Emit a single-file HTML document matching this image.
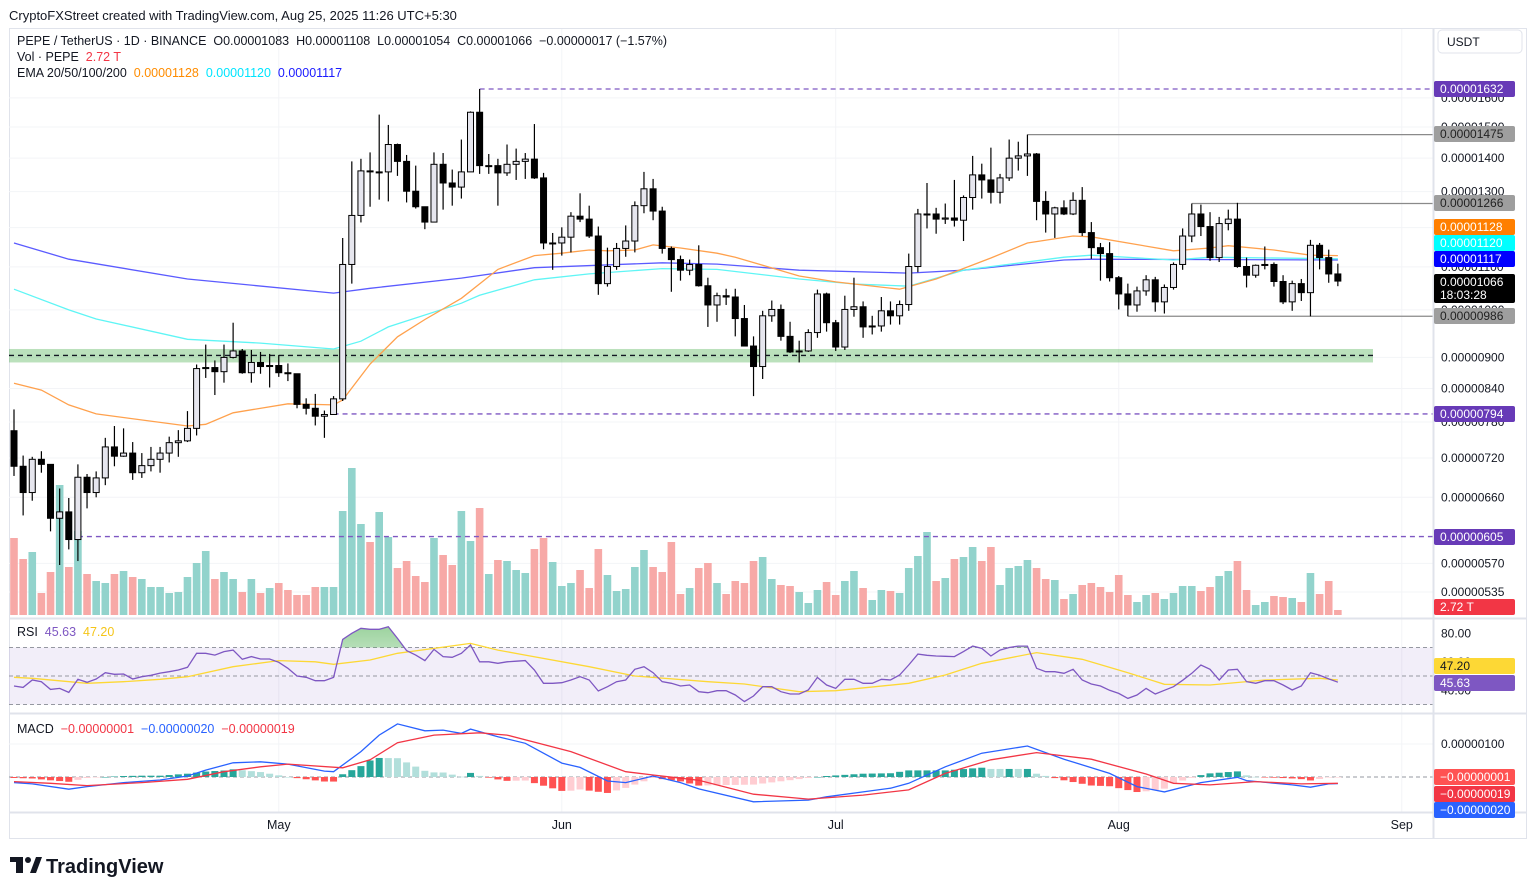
<!DOCTYPE html>
<html><head><meta charset="utf-8"><title>PEPE/USDT chart</title>
<style>
html,body{margin:0;padding:0;background:#fff;}
svg{display:block;font-family:"Liberation Sans",Arial,sans-serif;}
</style></head>
<body>
<svg id="chart" width="1536" height="894" viewBox="0 0 1536 894" xmlns="http://www.w3.org/2000/svg">
<defs>
<clipPath id="mainClip"><rect x="9" y="29" width="1424" height="589"/></clipPath>
<clipPath id="rsiClip"><rect x="9" y="620" width="1424" height="92"/></clipPath>
<clipPath id="obClip"><rect x="9" y="600" width="1424" height="47.5"/></clipPath>
<clipPath id="macdClip"><rect x="9" y="715" width="1424" height="97"/></clipPath>
<linearGradient id="obGrad" x1="0" y1="0" x2="0" y2="1"><stop offset="0" stop-color="#4caf50" stop-opacity="0.55"/><stop offset="1" stop-color="#4caf50" stop-opacity="0.05"/></linearGradient>
</defs>
<text x="9" y="20" font-size="13" fill="#131722">CryptoFXStreet created with TradingView.com, Aug 25, 2025 11:26 UTC+5:30</text>
<rect x="9.5" y="28.5" width="1517" height="810" fill="none" stroke="#e0e3eb"/>
<g id="grid"></g>
<g id="main" clip-path="url(#mainClip)"></g>
<g id="rsi"></g>
<g id="macd"></g>
<g id="axes"></g>
<g id="legend">
<text x="17" y="45" font-size="12.5" fill="#131722">PEPE / TetherUS · 1D · BINANCE&#160;&#160;O0.00001083&#160;&#160;H0.00001108&#160;&#160;L0.00001054&#160;&#160;C0.00001066&#160;&#160;−0.00000017 (−1.57%)</text>
<text x="17" y="61" font-size="12.5" fill="#131722">Vol · PEPE&#160;&#160;<tspan fill="#f23645">2.72 T</tspan></text>
<text x="17" y="77" font-size="12.5" fill="#131722">EMA 20/50/100/200&#160;&#160;<tspan fill="#ff8c00">0.00001128</tspan>&#160;&#160;<tspan fill="#00e5ff">0.00001120</tspan>&#160;&#160;<tspan fill="#1a1aff">0.00001117</tspan></text>
<text x="17" y="636" font-size="12.5" fill="#131722">RSI&#160;&#160;<tspan fill="#7e57c2">45.63</tspan>&#160;&#160;<tspan fill="#f5c518">47.20</tspan></text>
<text x="17" y="733" font-size="12.5" fill="#131722">MACD&#160;&#160;<tspan fill="#f23645">−0.00000001</tspan>&#160;&#160;<tspan fill="#2962ff">−0.00000020</tspan>&#160;&#160;<tspan fill="#f23645">−0.00000019</tspan></text>
</g>
<g>
<rect x="10" y="857" width="13" height="5" fill="#131722"/>
<rect x="16" y="857" width="7" height="16" fill="#131722"/>
<circle cx="28" cy="860" r="3" fill="#131722"/>
<polygon points="30,873 36,857 42,857 36,873" fill="#131722"/>
<text x="46" y="873" font-size="20" font-weight="bold" fill="#131722">TradingView</text>
</g>
</svg>
<script>
// ---- price data (units of 1e-8 USDT) ----
const firstOpen = 765;
const closes = [707,667,718,710,630,639,601,690,667,689,738,723,728,697,708,718,728,745,748,769,
878,880,872,900,913,870,890,882,884,870,868,811,804,790,793,821,1106,1233,1361,1358,
1358,1443,1390,1301,1257,1215,1381,1325,1313,1358,1550,1377,1377,1355,1381,1390,1397,1340,1160,1160,
1175,1231,1223,1178,1060,1101,1146,1165,1260,1308,1245,1146,1118,1092,1106,1055,1011,1032,1029,981,
923,882,987,1001,943,911,913,951,1036,972,921,1001,1007,963,965,998,987,1012,1101,1237,
1237,1223,1226,1220,1283,1349,1334,1298,1340,1400,1407,1413,1272,1237,1254,1237,1275,1187,1148,1133,
1074,1036,1011,1043,1069,1018,1051,1106,1178,1237,1203,1123,1211,1223,1101,1080,1104,1106,1065,1018,
1060,1039,1154,1123,1083,1066];
const highs = [802,724,722,731,708,673,659,710,695,699,753,773,769,746,728,738,738,755,766,799,
886,926,894,926,972,917,915,911,907,905,888,868,822,830,800,826,1173,1390,1398,1418,
1542,1507,1446,1410,1377,1257,1418,1416,1365,1459,1553,1632,1413,1398,1443,1430,1416,1510,1355,1186,
1201,1242,1295,1260,1203,1148,1160,1206,1272,1358,1337,1257,1151,1128,1118,1154,1074,1039,1048,1048,
1011,943,998,1021,1012,974,934,958,1046,1039,978,1032,1074,1019,987,1029,1019,1021,1133,1251,
1325,1254,1266,1334,1289,1407,1383,1433,1352,1459,1452,1475,1416,1301,1257,1275,1298,1313,1215,1160,
1162,1078,1060,1053,1080,1076,1058,1111,1198,1266,1263,1242,1229,1249,1268,1123,1106,1151,1111,1080,
1067,1071,1168,1160,1143,1108];
const lows = [692,634,655,697,612,568,588,573,644,660,678,707,722,686,689,699,697,713,722,746,
757,860,828,851,898,868,851,868,842,862,854,804,793,774,753,794,817,1060,1214,1257,
1277,1272,1346,1269,1252,1196,1215,1249,1260,1280,1358,1352,1352,1260,1346,1334,1337,1337,1144,1093,
1128,1136,1215,1173,1034,1053,1093,1125,1136,1239,1220,1133,1041,1067,1080,1053,963,974,1011,943,
923,826,858,974,934,909,890,911,940,953,913,915,985,940,947,953,968,968,998,1087,
1198,1184,1210,1203,1165,1249,1280,1266,1266,1331,1362,1346,1220,1187,1173,1234,1234,1178,1120,1067,
1065,1001,986,996,1032,996,992,1046,1093,1162,1178,1115,1112,1193,1098,1051,1074,1094,1053,1013,
998,1020,986,1094,1062,1054];
const volumes = [77,56,63,22,43,130,48,84,41,34,32,41,44,38,36,28,28,22,23,38,
52,64,36,43,36,23,36,22,27,32,25,20,20,28,28,28,104,147,91,73,
103,78,47,54,39,33,77,60,50,104,74,107,41,55,54,45,42,66,77,53,
29,32,45,27,66,40,24,26,48,65,48,43,73,21,27,47,52,32,21,34,
32,54,58,36,30,29,23,12,25,33,20,34,44,27,15,25,24,22,47,59,
83,34,37,56,58,68,54,68,30,47,49,55,47,36,35,16,21,30,32,28,
23,40,20,13,20,22,16,22,29,29,24,28,39,44,54,25,10,13,19,18,
17,13,42,21,34,5];
// ---- EMA samples (candle index, value) ----
const emaOrangeIdx = [0,3,6,9,19,21,24,30,35,36,39,42,45,49,53,57,60,63,65,68,70,73,77,79,82,86,90,97,101,107,111,116,118,127,131,133,138,142,145];
const emaOrangeVal = [850,837,810,794,773,776,796,812,810,819,887,942,979,1026,1094,1128,1134,1142,1140,1142,1155,1147,1134,1124,1104,1078,1064,1047,1071,1122,1160,1178,1176,1140,1147,1153,1142,1129,1128];
const emaCyanIdx = [0,6,9,19,27,35,38,41,49,51,57,63,71,77,86,92,98,104,115,118,127,131,145];
const emaCyanVal = [1047,1000,980,937,929,917,933,963,1015,1033,1069,1083,1096,1094,1071,1059,1054,1092,1124,1129,1117,1124,1120];
const emaBlueIdx = [0,6,19,35,39,49,57,71,77,86,98,104,115,118,145];
const emaBlueVal = [1160,1119,1071,1038,1049,1073,1098,1110,1107,1092,1085,1092,1117,1119,1117];
// ---- RSI ----
const rsiValues = [43,42,47.2,46,40.6,41.3,38.5,47.7,45.6,47.9,52.3,51.2,51.4,47.9,49.5,50.5,52,53,54.2,56.1,
65.9,65.9,64.7,67.1,68.2,61.7,63.6,61.9,61.9,59.6,55.4,50,49.1,46.7,46.7,49,75.7,80,83.5,82.8,
82.8,84.6,76.4,67.8,64.7,60.8,68.7,63.6,63.1,65.9,71.8,60,60,58.9,60,60.4,60.8,54.2,44.9,44.9,
45.3,47.2,49.5,47.2,39.5,42.5,46,47.2,54.7,56.5,52.3,46,44.9,43,43.7,39,38.3,39.7,39.7,36.7,
32,36,42.5,42.5,39,37.4,37.4,40.2,49,43.7,41.3,47.7,47.7,44.9,44.9,47.7,47.2,50.7,57.7,65.4,
64.5,64,63.8,63.6,67.1,71,69.4,64,68.2,70,71,71,55.4,53,53,51.9,54.7,47.2,44.4,43,
40,37.8,34.3,36.7,41.3,37.4,40,42.5,47,51.9,57.7,54.7,47.2,54.2,54.7,46,44.9,46.7,46.7,43.7,
40.2,43,52.3,50.5,48,45.63];
const rsiMaIdx = [0,2,8,12,16,19,24,29,33,35,39,42,46,50,53,56,63,68,76,80,86,90,98,102,106,112,117,122,126,131,137,143,145];
const rsiMaVal = [49.1,48.4,44.9,46,47.7,49.5,56.5,60.8,60,58.2,61.2,65.9,69.4,72.9,68.2,64.7,56.5,50,46,44.4,39,39.7,44.9,50.7,58.9,66.4,61.7,52.3,44.2,43.7,47.2,48.4,47.2];
const rsiTicks = ["80.00","60.00","40.00"];
const rsiTickVals = [80,60,40];
// ---- MACD (units of 1e-8) ----
const macdIdx = [0,2,6,8,12,16,19,21,24,27,30,34,35,38,40,42,45,47,49,50,53,56,60,62,65,67,70,73,75,81,87,89,93,96,98,102,106,111,115,120,123,126,130,134,135,140,142,144,145];
const macdVal = [-17,-21,-37,-29,-17,-9,3,21,43,46,39,18,16,77,127,161,140,142,132,145,122,102,42,29,-12,-17,3,-17,-36,-75,-70,-60,-45,-34,-19,31,72,94,54,11,-29,-45,-17,-1,-11,-24,-31,-21,-20];
const signalIdx = [0,4,8,14,19,23,27,30,36,39,42,46,51,54,61,67,70,75,81,87,93,98,102,107,112,118,124,127,131,136,141,145];
const signalVal = [-14,-19,-26,-17,-7,16,31,39,28,52,104,127,134,127,77,16,6,-10,-52,-67,-55,-39,11,52,74,54,9,-19,-24,-14,-21,-19];
// ---- axis labels ----
const priceTicks = [1600,1500,1400,1300,1200,1100,1000,900,840,780,720,660,570,535];
const monthLabels = ["May","Jun","Jul","Aug","Sep"];
const monthIdx = [29,60,90,121,152]; // candle index of the 1st day of each month (index 0 = Apr 2)
const levelVals = {top:1632, r1:1475, r2:1266, s1:986, low:794, base:605, zoneTop:917, zoneBot:890, zoneMid:904};

// ---- scales ----
const NS = "http://www.w3.org/2000/svg";
const yP = p => 89 + 451*Math.log(1632/p);
const xI = i => 14 + 9.13*i;
const yV = v => 615 - v;
const yR = v => 676 - (v-50)*1.425;
const yM = v => 777 - v*0.33;
function el(tag, parent){ const e=document.createElementNS(NS,tag); parent.appendChild(e); return e; }
function interp(idx, val, i){
  if(i<=idx[0]) return val[0];
  for(let k=1;k<idx.length;k++){ if(i<=idx[k]){ const t=(i-idx[k-1])/(idx[k]-idx[k-1]); return val[k-1]+t*(val[k]-val[k-1]); } }
  return val[val.length-1];
}
const grid=document.getElementById('grid'), main=document.getElementById('main'), rsi=document.getElementById('rsi'), macd=document.getElementById('macd'), axes=document.getElementById('axes');

// grid
priceTicks.forEach(p=>{ const l=el('line',grid); l.setAttribute('x1',9); l.setAttribute('x2',1433); l.setAttribute('y1',yP(p)); l.setAttribute('y2',yP(p)); l.setAttribute('stroke','#f3f4f7');

 });
monthIdx.forEach(m=>{ const l=el('line',grid); l.setAttribute('x1',xI(m)); l.setAttribute('x2',xI(m)); l.setAttribute('y1',29); l.setAttribute('y2',812); l.setAttribute('stroke','#f3f4f7');

 });

// volume
for(let i=0;i<closes.length;i++){
  const o = i===0?firstOpen:closes[i-1];
  const r=el('rect',main); r.setAttribute('x',xI(i)-3.8); r.setAttribute('width',7.6); r.setAttribute('y',yV(volumes[i])); r.setAttribute('height',volumes[i]);
  r.setAttribute('fill', closes[i]>=o ? '#92d3cc' : '#f7a9a7');
  
  
}
// green zone
{ const z=el('rect',main); z.setAttribute('x',9); z.setAttribute('width',1364); z.setAttribute('y',yP(levelVals.zoneTop)); z.setAttribute('height',yP(levelVals.zoneBot)-yP(levelVals.zoneTop)); z.setAttribute('fill','rgba(76,175,80,0.38)');


  const d=el('line',main); d.setAttribute('x1',9); d.setAttribute('x2',1373); d.setAttribute('y1',yP(levelVals.zoneMid)); d.setAttribute('y2',yP(levelVals.zoneMid)); d.setAttribute('stroke','#131722'); d.setAttribute('stroke-dasharray','5 4'); d.setAttribute('stroke-width','1.3');

 }
// level lines
function hline(val, startIdx, color, dash, name){
  const l=el('line',main); l.setAttribute('x1',xI(startIdx)); l.setAttribute('x2',1433); l.setAttribute('y1',yP(val)); l.setAttribute('y2',yP(val)); l.setAttribute('stroke',color); l.setAttribute('stroke-width','1.3'); if(dash) l.setAttribute('stroke-dasharray',dash);
  
  
}
hline(levelVals.top,51,'#7e57c2','5 4','high-level-line');
hline(levelVals.r1,111,'#8a8a8a',null,'resistance-line-1475');
hline(levelVals.r2,129,'#8a8a8a',null,'resistance-line-1266');
hline(levelVals.s1,122,'#8a8a8a',null,'support-line-986');
hline(levelVals.low,35,'#7e57c2','5 4','low-level-line');
hline(levelVals.base,7,'#7e57c2','5 4','base-level-line');
// EMAs
function emaPath(idx,val,color,name){
  const p=el('path',main); p.setAttribute('d', idx.map((ix,k)=>(k?'L':'M')+xI(ix).toFixed(1)+','+yP(val[k]).toFixed(1)).join(''));
  p.setAttribute('fill','none'); p.setAttribute('stroke',color); p.setAttribute('stroke-width','1.3');
  
  
}
emaPath(emaBlueIdx,emaBlueVal,'#5b5bff','ema-blue-line');
emaPath(emaCyanIdx,emaCyanVal,'#5ff5f5','ema-cyan-line');
emaPath(emaOrangeIdx,emaOrangeVal,'#ffa14d','ema-orange-line');
// candles
for(let i=0;i<closes.length;i++){
  const o=i===0?firstOpen:closes[i-1], c=closes[i], up=c>=o;
  const hi=Math.max(highs[i],o,c), lo=Math.min(lows[i],o,c);
  const g=el('g',main);
  
  
  const w=el('line',g); w.setAttribute('x1',xI(i)); w.setAttribute('x2',xI(i)); w.setAttribute('y1',yP(hi)); w.setAttribute('y2',yP(lo)); w.setAttribute('stroke','#000'); w.setAttribute('stroke-width','1.2');
  const top=yP(Math.max(o,c)), bot=yP(Math.min(o,c));
  const b=el('rect',g); b.setAttribute('x',xI(i)-3); b.setAttribute('width',6); b.setAttribute('y',top); b.setAttribute('height',Math.max(1,bot-top));
  b.setAttribute('fill',up?'#e6e6ee':'#000'); b.setAttribute('stroke','#000'); b.setAttribute('stroke-width','1');
}

// RSI pane
{ const band=el('rect',rsi); band.setAttribute('x',9); band.setAttribute('width',1424); band.setAttribute('y',yR(70)); band.setAttribute('height',yR(30)-yR(70)); band.setAttribute('fill','rgba(126,87,194,0.1)');


  [70,50,30].forEach(v=>{ const l=el('line',rsi); l.setAttribute('x1',9); l.setAttribute('x2',1433); l.setAttribute('y1',yR(v)); l.setAttribute('y2',yR(v)); l.setAttribute('stroke','#9598a1'); l.setAttribute('stroke-dasharray','4 3');

 });
  const pts=rsiValues.map((v,i)=>xI(i).toFixed(1)+','+yR(v).toFixed(1));
  const ob=el('path',rsi); ob.setAttribute('d','M'+xI(0)+','+yR(70)+' L'+pts.join(' L')+' L'+xI(rsiValues.length-1)+','+yR(70)+'Z'); ob.setAttribute('fill','url(#obGrad)'); ob.setAttribute('clip-path','url(#obClip)');


  const ma=el('path',rsi); ma.setAttribute('d',rsiMaIdx.map((ix,k)=>(k?'L':'M')+xI(ix).toFixed(1)+','+yR(rsiMaVal[k]).toFixed(1)).join('')); ma.setAttribute('fill','none'); ma.setAttribute('stroke','#fdd835'); ma.setAttribute('stroke-width','1.3');


  const rl=el('path',rsi); rl.setAttribute('d','M'+pts.join(' L')); rl.setAttribute('fill','none'); rl.setAttribute('stroke','#7e57c2'); rl.setAttribute('stroke-width','1.3');


}
// MACD pane
{ const z=el('line',macd); z.setAttribute('x1',9); z.setAttribute('x2',1433); z.setAttribute('y1',yM(0)); z.setAttribute('y2',yM(0)); z.setAttribute('stroke','#9598a1'); z.setAttribute('stroke-dasharray','4 3');


  const g100=el('line',macd); g100.setAttribute('x1',9); g100.setAttribute('x2',1433); g100.setAttribute('y1',yM(100)); g100.setAttribute('y2',yM(100)); g100.setAttribute('stroke','#f3f4f7');


  let prev=null;
  for(let i=0;i<closes.length;i++){
    const h=interp(macdIdx,macdVal,i)-interp(signalIdx,signalVal,i);
    let col;
    if(h>=0) col=(prev===null||h>=prev)?'#26a69a':'#b2dfdb'; else col=(prev===null||h<=prev)?'#ff5252':'#ffcdd2';
    prev=h;
    const r=el('rect',macd); r.setAttribute('x',xI(i)-3.5); r.setAttribute('width',7); r.setAttribute('y',Math.min(yM(0),yM(h))); r.setAttribute('height',Math.max(0.5,Math.abs(yM(h)-yM(0)))); r.setAttribute('fill',col);
    
    
  }
  const ml=el('path',macd); ml.setAttribute('d',macdIdx.map((ix,k)=>(k?'L':'M')+xI(ix).toFixed(1)+','+yM(macdVal[k]).toFixed(1)).join('')); ml.setAttribute('fill','none'); ml.setAttribute('stroke','#2962ff'); ml.setAttribute('stroke-width','1.3');


  const sl=el('path',macd); sl.setAttribute('d',signalIdx.map((ix,k)=>(k?'L':'M')+xI(ix).toFixed(1)+','+yM(signalVal[k]).toFixed(1)).join('')); sl.setAttribute('fill','none'); sl.setAttribute('stroke','#f23645'); sl.setAttribute('stroke-width','1.3');


}

// separators & axes
[[9,1527,618.5,618.5],[9,1527,713.5,713.5],[9,1527,812.5,812.5],[1433.5,1433.5,29,838]].forEach(s=>{ const l=el('line',axes); l.setAttribute('x1',s[0]); l.setAttribute('x2',s[1]); l.setAttribute('y1',s[2]); l.setAttribute('y2',s[3]); l.setAttribute('stroke','#e0e3eb'); l.setAttribute('stroke-width','2');

 });
function txt(parent,x,y,s,size,fill,anchor){ const t=el('text',parent); t.setAttribute('x',x); t.setAttribute('y',y); t.setAttribute('font-size',size); t.setAttribute('fill',fill); t.setAttribute('dominant-baseline','central'); if(anchor) t.setAttribute('text-anchor',anchor); t.textContent=s; return t; }
priceTicks.forEach(p=>{ const t=txt(axes,1441,yP(p),'0.0000'+String(p).padStart(4,'0'),12,'#131722');

 });
rsiTickVals.forEach((v,k)=>{ const t=txt(axes,1441,yR(v),rsiTicks[k],12,'#131722');

 });
{ const t=txt(axes,1441,yM(100),'0.00000100',12,'#131722');

 }
monthLabels.forEach((m,k)=>{ const t=txt(axes,xI(monthIdx[k]),825,m,12.5,'#131722','middle');

 });
{ const ub=el('rect',axes); ub.setAttribute('x',1438); ub.setAttribute('y',30); ub.setAttribute('width',84); ub.setAttribute('height',23); ub.setAttribute('rx',4); ub.setAttribute('fill','#fff'); ub.setAttribute('stroke','#e0e3eb');


  const t=txt(axes,1447,42,'USDT',12,'#131722');

 }
// badges
const badges=[
 [89,'0.00001632','#673ab7','#fff','badge-high'],
 [134,'0.00001475','#9e9e9e','#222','badge-resistance-1475'],
 [203,'0.00001266','#9e9e9e','#222','badge-resistance-1266'],
 [227,'0.00001128','#ff7f00','#fff','badge-ema-orange'],
 [243,'0.00001120','#00ffff','#fff','badge-ema-cyan'],
 [259,'0.00001117','#0000ff','#fff','badge-ema-blue'],
 [316,'0.00000986','#9e9e9e','#222','badge-support-986'],
 [414,'0.00000794','#673ab7','#fff','badge-low'],
 [537,'0.00000605','#673ab7','#fff','badge-base'],
 [607,'2.72 T','#f23645','#fff','badge-volume'],
 [666,'47.20','#fdd835','#131722','badge-rsi-ma'],
 [683,'45.63','#7e57c2','#fff','badge-rsi'],
 [777,'−0.00000001','#ff5252','#fff','badge-macd-hist'],
 [794,'−0.00000019','#f23645','#fff','badge-macd-signal'],
 [810,'−0.00000020','#2962ff','#fff','badge-macd']
];
badges.forEach(b=>{ const g=el('g',axes);
 
 
 const r=el('rect',g); r.setAttribute('x',1434); r.setAttribute('y',b[0]-8); r.setAttribute('width',81); r.setAttribute('height',16); r.setAttribute('rx',2); r.setAttribute('fill',b[2]);
 txt(g,1440,b[0],b[1],12,b[3]); });
{ const g=el('g',axes);


  const r=el('rect',g); r.setAttribute('x',1434); r.setAttribute('y',274); r.setAttribute('width',81); r.setAttribute('height',29); r.setAttribute('rx',2); r.setAttribute('fill','#000');
  txt(g,1440,282,'0.00001066',12,'#fff'); txt(g,1440,295,'18:03:28',12,'#fff'); }
</script>
</body></html>
